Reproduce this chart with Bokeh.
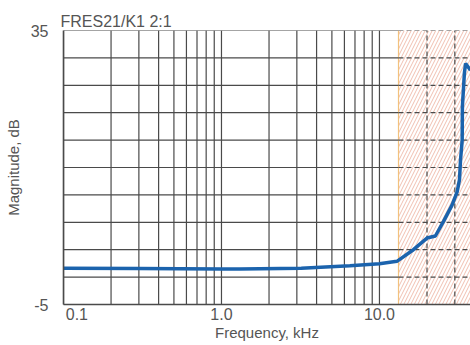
from bokeh.plotting import figure
from bokeh.models import Range1d, FixedTicker, BoxAnnotation, Span
from bokeh.embed import file_html
from bokeh.resources import INLINE

# ---- data ----
freq_khz = [0.1, 0.3, 1.0, 1.3, 3.2, 6.5, 10.0, 12.9, 16.4, 20.0, 22.6, 25.4,
            28.8, 31.0, 32.1, 32.6, 33.4, 33.5, 34.5, 35.1, 36.6, 37.7]
magnitude_db = [0.3, 0.25, 0.2, 0.17, 0.3, 0.65, 0.95, 1.3, 3.0, 4.7, 5.0, 7.1,
                9.5, 11.4, 13.2, 16.1, 19.0, 23.9, 28.8, 30.2, 29.6, 29.2]

x_major = [0.1, 1.0, 10.0]
x_major_labels = ["\u2007\u2007\u20070.1", "1.0", "10.0"]
x_grid = [0.1, 0.2, 0.3, 0.4, 0.5, 0.6, 0.7, 0.8, 0.9, 1.0,
          2.0, 3.0, 4.0, 5.0, 6.0, 7.0, 8.0, 9.0, 10.0]
x_grid_dashed = [20.0, 30.0]
y_grid = [-5, -1, 3, 7, 11, 15, 19, 23, 27, 31, 35]
y_labels = [-5, 35]
y_label_text = ["-5", "35"]
hatch_start = 13.2
x_min, x_max = 0.1, 37.7
y_min, y_max = -5, 35

TXT = "#555555"
GRID = "#4a4a4a"
FONT = "Liberation Sans"

p = figure(width=470, height=345, x_axis_type="log",
           x_range=Range1d(x_min, x_max), y_range=Range1d(y_min, y_max),
           output_backend="svg", toolbar_location=None,
           min_border_left=63, min_border_right=0, min_border_bottom=41,
           min_border_top=30)
p.outline_line_color = None
p.grid.visible = False
p.background_fill_color = "white"
p.border_fill_color = "white"

p.title.text = "FRES21/K1 2:1"
p.title.align = "left"
p.title.text_font = FONT
p.title.text_font_size = "16px"
p.title.text_font_style = "normal"
p.title.text_color = TXT
p.title.offset = -3
p.title.standoff = 1

# hatched region
p.add_layout(BoxAnnotation(left=hatch_start, fill_color=None, line_color=None,
                           hatch_pattern="/", hatch_color="#eaa48e",
                           hatch_scale=7, hatch_weight=1, hatch_alpha=0.7,
                           level="underlay"))
p.add_layout(Span(location=hatch_start, dimension="height",
                  line_color="#f2c27e", line_width=1.2, level="underlay"))

# grid lines (solid before hatch, dashed inside)
p.segment(x0=[x_min] * len(y_grid), x1=[hatch_start] * len(y_grid),
          y0=y_grid, y1=y_grid, line_color=GRID, line_width=1.2)
p.segment(x0=[hatch_start] * len(y_grid), x1=[x_max] * len(y_grid),
          y0=y_grid, y1=y_grid, line_color=GRID, line_width=1.2,
          line_dash="5 3")
p.segment(x0=x_grid, x1=x_grid, y0=[y_min] * len(x_grid),
          y1=[y_max] * len(x_grid), line_color=GRID, line_width=1.2)
p.segment(x0=x_grid_dashed, x1=x_grid_dashed, y0=[y_min] * len(x_grid_dashed),
          y1=[y_max] * len(x_grid_dashed), line_color=GRID, line_width=1.2,
          line_dash="5 3")

# curve
p.line(freq_khz, magnitude_db, line_color="#1b63ad", line_width=3.5)

# axes
for ax in (p.xaxis[0], p.yaxis[0]):
    ax.axis_line_color = GRID
    ax.axis_line_width = 1.6
    ax.major_tick_line_color = None
    ax.minor_tick_line_color = None
    ax.major_label_text_font = FONT
    ax.major_label_text_font_size = "16px"
    ax.major_label_text_color = TXT
    ax.axis_label_text_font = FONT
    ax.axis_label_text_font_size = "15px"
    ax.axis_label_text_font_style = "normal"
    ax.axis_label_text_color = TXT

p.yaxis.ticker = FixedTicker(ticks=y_labels)
p.yaxis.major_label_overrides = dict(zip(y_labels, y_label_text))
p.yaxis.major_label_standoff = 9
p.yaxis.axis_label = "Magnitude, dB"
p.yaxis.axis_label_standoff = 6

p.xaxis.ticker = FixedTicker(ticks=x_major)
p.xaxis.major_label_overrides = dict(zip(x_major, x_major_labels))
p.xaxis.major_label_standoff = -5
p.xaxis.axis_label = "Frequency, kHz"
p.xaxis.axis_label_standoff = -2

open("out.html", "w").write(file_html(p, INLINE))
